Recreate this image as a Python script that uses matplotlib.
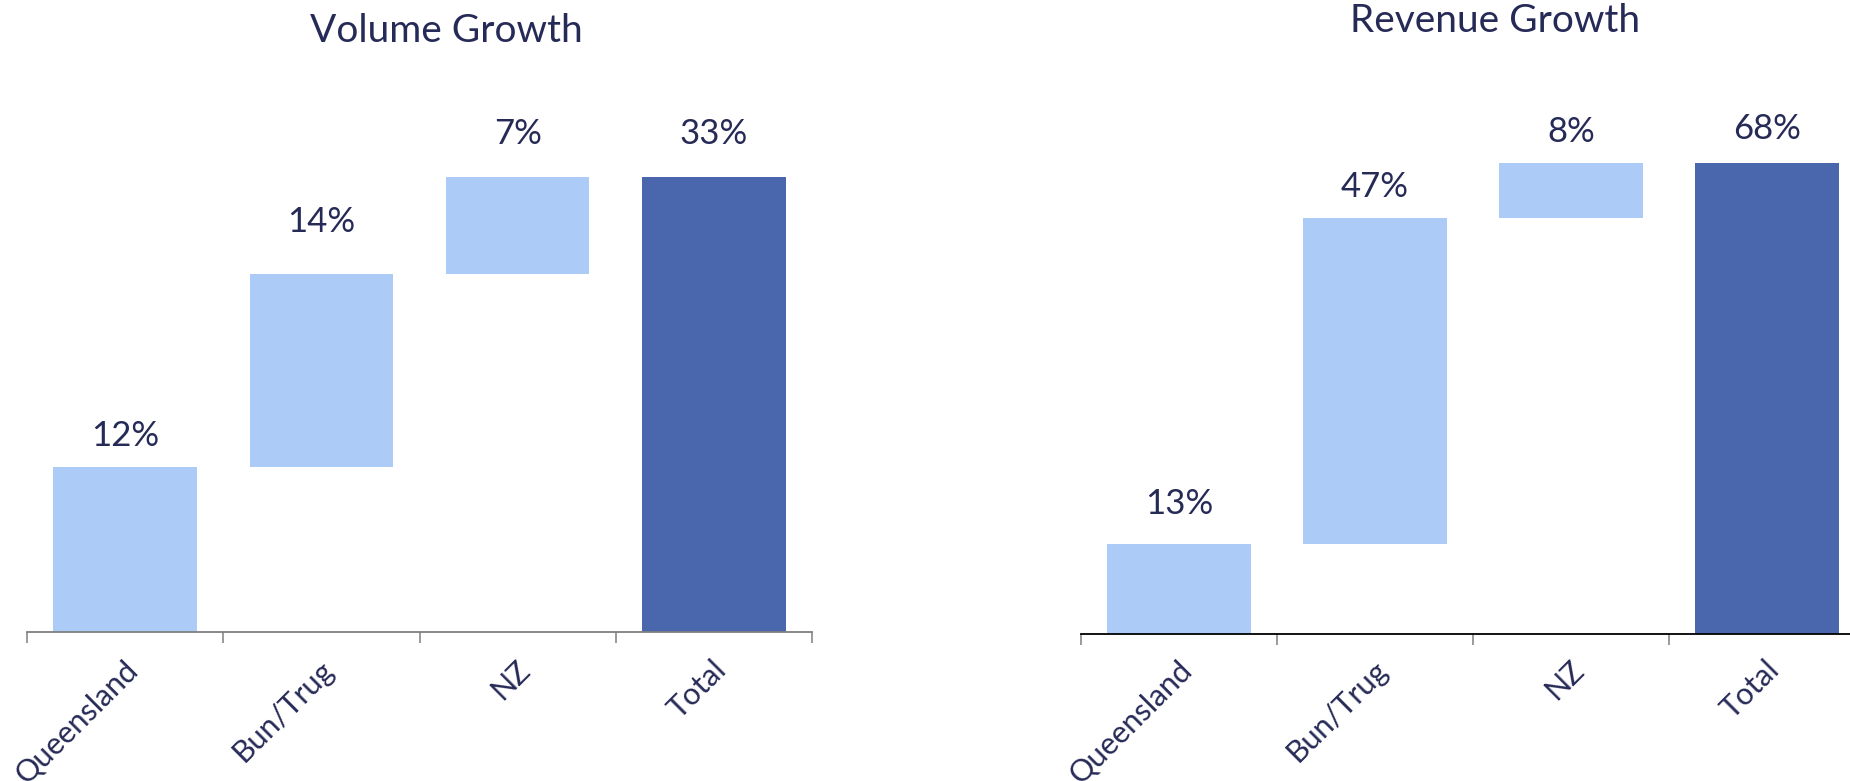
import matplotlib.pyplot as plt
import numpy as np

plt.rcParams['font.family'] = ['Lato', 'DejaVu Sans']

# data
categories = ["Queensland", "Bun/Trug", "NZ", "Total"]
volume_steps = [12, 14, 7]
revenue_steps = [13, 47, 8]

TEXT = "#262a56"
LIGHT = "#adcbf7"
DARK = "#4a67ad"


def waterfall(ax, steps, ymax, label_offsets, spine_color):
    total = sum(steps)
    bottoms = list(np.cumsum([0] + steps[:-1])) + [0]
    heights = steps + [total]
    colors = [LIGHT] * len(steps) + [DARK]
    x = np.arange(len(categories))

    ax.bar(x, heights, bottom=bottoms, width=0.73, color=colors)

    for i, (b, h) in enumerate(zip(bottoms, heights)):
        ax.annotate(f"{h}%", (i, b + h), xytext=(0, label_offsets[i]),
                    textcoords="offset points", ha="center", va="center",
                    fontsize=25, color=TEXT)

    ax.set_xlim(-0.5, len(categories) - 0.5)
    ax.set_ylim(0, ymax)
    for s in ["top", "right", "left"]:
        ax.spines[s].set_visible(False)
    ax.spines["bottom"].set_color(spine_color)
    ax.spines["bottom"].set_linewidth(1.3)
    ax.set_yticks([])
    ax.set_xticks(np.arange(len(categories) + 1) - 0.5)
    ax.set_xticklabels([])
    ax.tick_params(axis="x", direction="out", length=8, width=1.1, color="#7f7f7f")

    # rotated category labels, right end sits under the bar centre
    trans = ax.get_xaxis_transform()
    for i, c in enumerate(categories):
        ax.text(i + 0.04, -0.06, c, transform=trans, rotation=45,
                rotation_mode="anchor", ha="right", va="center",
                fontsize=22, color=TEXT)


fig = plt.figure(figsize=(18.5, 7.81), dpi=100)

ax1 = fig.add_axes([27 / 1850, 149 / 781, 785 / 1850, 551 / 781])
waterfall(ax1, volume_steps, 40, [22, 37, 31, 31], "#7f7f7f")

ax2 = fig.add_axes([1081 / 1850, 147 / 781, 784 / 1850, 520 / 781])
waterfall(ax2, revenue_steps, 75, [29, 22, 22, 24], "#000000")

fig.text(446 / 1850, 1 - 31 / 781, "Volume Growth", ha="center", va="center",
         fontsize=28, color=TEXT)
fig.text(1495 / 1850, 1 - 21 / 781, "Revenue Growth", ha="center", va="center",
         fontsize=28, color=TEXT)

fig.savefig("out.png", dpi=100)
